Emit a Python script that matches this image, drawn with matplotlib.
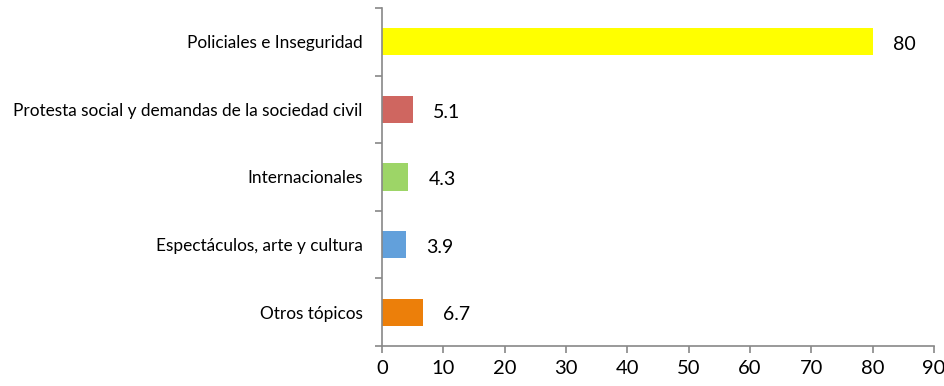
import matplotlib.pyplot as plt

categories = ["Otros tópicos", "Espectáculos, arte y cultura", "Internacionales",
              "Protesta social y demandas de la sociedad civil", "Policiales e Inseguridad"]
values = [6.7, 3.9, 4.3, 5.1, 80]
labels = ["6.7", "3.9", "4.3", "5.1", "80"]
colors = ["#EC7F0A", "#62A0DB", "#9DD567", "#CF6660", "#FFFF00"]

plt.rcParams['font.family'] = ['Lato', 'DejaVu Sans']

fig = plt.figure(figsize=(9.44, 3.86), dpi=100)
ax = fig.add_axes([382 / 944, 1 - 346 / 386, 552 / 944, 338 / 386])

pos = range(len(categories))
ax.barh(pos, values, height=0.4, color=colors)
# value labels sit a little right of each bar end
for p, v, t in zip(pos, values, labels):
    ax.annotate(t, (v, p), xytext=(14.5, -2), textcoords='offset points',
                va='center', ha='left', fontsize=14)

ax.set_xlim(0, 90)
ax.set_ylim(-0.5, len(categories) - 0.5)
ax.set_xticks(range(0, 91, 10))
ax.set_yticks(list(pos))
ax.set_yticklabels(categories, fontsize=12.4)
ax.set_yticks([i - 0.5 for i in range(len(categories) + 1)], minor=True)
ax.tick_params(axis='y', which='major', length=0, pad=14)
ax.tick_params(axis='y', which='minor', length=5, color='#888888', width=1.2)
ax.tick_params(axis='x', length=5, color='#888888', width=1.2, labelsize=14.5, pad=5)

for s in ['top', 'right']:
    ax.spines[s].set_visible(False)
for s in ['left', 'bottom']:
    ax.spines[s].set_color('#888888')
    ax.spines[s].set_linewidth(1.2)

fig.savefig("out.png", dpi=100)
